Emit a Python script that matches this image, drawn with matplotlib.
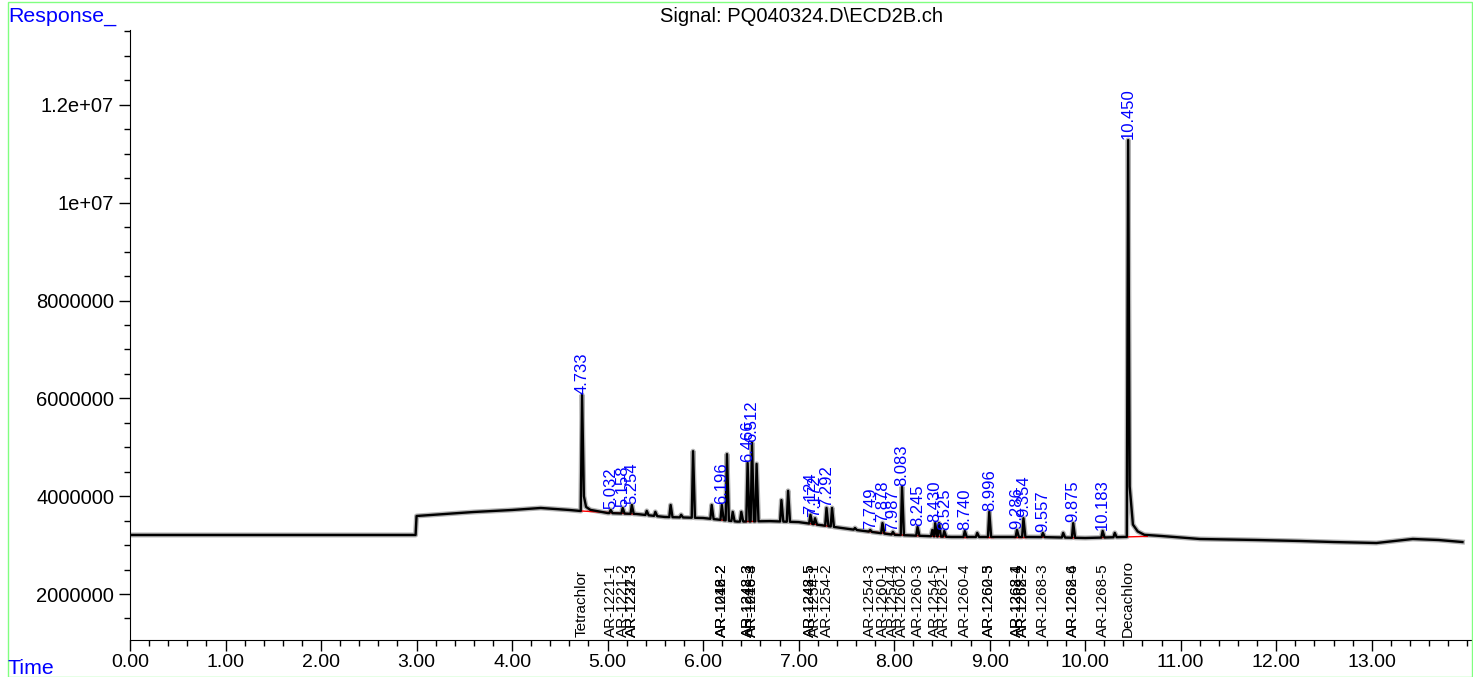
import numpy as np
import matplotlib
matplotlib.use("Agg")
import matplotlib.pyplot as plt
from matplotlib.patches import Rectangle
from matplotlib.ticker import MultipleLocator, FixedLocator

plt.rcParams['font.family'] = ['Liberation Sans', 'DejaVu Sans']

# baseline of the trace (time in min, response)
base_t = [0.0, 2.99, 3.0, 3.3, 3.6, 4.0, 4.3, 4.6, 4.7, 5.0, 5.3, 5.6, 6.0, 6.36,
          6.7, 7.0, 7.3, 7.6, 8.0, 8.6, 9.1, 9.5, 10.0, 10.4, 10.8, 11.2, 11.8,
          12.25, 12.6, 13.05, 13.43, 13.7, 13.95]
base_v = [3.207e6, 3.207e6, 3.595e6, 3.636e6, 3.677e6, 3.718e6, 3.759e6, 3.718e6,
          3.70e6, 3.656e6, 3.636e6, 3.575e6, 3.554e6, 3.48e6, 3.49e6, 3.47e6,
          3.39e6, 3.31e6, 3.21e6, 3.166e6, 3.166e6, 3.166e6, 3.145e6, 3.166e6,
          3.186e6, 3.125e6, 3.104e6, 3.084e6, 3.063e6, 3.043e6, 3.125e6,
          3.104e6, 3.063e6]

# peak apex times and heights
peak_t = [4.733, 5.032, 5.158, 5.254, 5.41, 5.50, 5.66, 5.77, 5.895, 6.09, 6.196,
          6.25, 6.31, 6.40, 6.466, 6.512, 6.56, 6.82, 6.89, 7.124, 7.172, 7.292,
          7.35, 7.59, 7.749, 7.878, 7.987, 8.083, 8.245, 8.40, 8.430, 8.47, 8.525,
          8.740, 8.87, 8.996, 9.286, 9.354, 9.557, 9.77, 9.875, 10.183, 10.31,
          10.450]
peak_v = [6.07e6, 3.72e6, 3.76e6, 3.82e6, 3.70e6, 3.68e6, 3.82e6, 3.62e6, 4.92e6,
          3.82e6, 3.82e6, 4.86e6, 3.68e6, 3.68e6, 4.68e6, 5.09e6, 4.66e6, 3.92e6,
          4.11e6, 3.62e6, 3.55e6, 3.76e6, 3.76e6, 3.35e6, 3.31e6, 3.45e6, 3.27e6,
          4.19e6, 3.37e6, 3.31e6, 3.45e6, 3.45e6, 3.29e6, 3.29e6, 3.25e6, 3.68e6,
          3.31e6, 3.55e6, 3.25e6, 3.25e6, 3.45e6, 3.29e6, 3.25e6, 11.28e6]

# tailing after the two big peaks
tail_t = [4.752, 4.775, 4.82, 10.466, 10.50, 10.55, 10.62]
tail_v = [4.0e6, 3.78e6, 3.72e6, 4.2e6, 3.42e6, 3.28e6, 3.21e6]

# integration baselines (red)
integ = [(4.70, 5.33), (6.18, 6.22), (6.43, 6.55), (7.10, 7.32), (7.72, 8.11),
         (8.22, 8.56), (8.72, 8.76), (8.97, 9.03), (9.26, 9.38), (9.54, 9.58),
         (9.85, 9.90), (10.16, 10.21), (10.43, 10.65)]

# labelled retention times
rt_labels = ['4.733', '5.032', '5.158', '5.254', '6.196', '6.466', '6.512', '7.124',
             '7.172', '7.292', '7.749', '7.878', '7.987', '8.083', '8.245', '8.430',
             '8.525', '8.740', '8.996', '9.286', '9.354', '9.557', '9.875', '10.183',
             '10.450']

# compound names along the bottom
comp_t = [4.733, 5.032, 5.158, 5.254, 5.254, 6.196, 6.196, 6.196, 6.466, 6.466,
          6.512, 6.512, 7.124, 7.124, 7.172, 7.292, 7.749, 7.878, 7.987, 8.083,
          8.245, 8.430, 8.525, 8.740, 8.996, 8.996, 9.286, 9.286, 9.354, 9.354,
          9.557, 9.875, 9.875, 10.183, 10.450]
comp_names = ['Tetrachlor', 'AR-1221-1', 'AR-1221-2', 'AR-1221-3', 'AR-1232-3',
              'AR-1016-2', 'AR-1242-2', 'AR-1248-2', 'AR-1242-3', 'AR-1248-3',
              'AR-1016-3', 'AR-1248-4', 'AR-1242-5', 'AR-1248-5', 'AR-1254-1',
              'AR-1254-2', 'AR-1254-3', 'AR-1260-1', 'AR-1254-4', 'AR-1260-2',
              'AR-1260-3', 'AR-1254-5', 'AR-1262-1', 'AR-1260-4', 'AR-1260-5',
              'AR-1262-3', 'AR-1268-1', 'AR-1262-4', 'AR-1268-2', 'AR-1262-2',
              'AR-1268-3', 'AR-1268-4', 'AR-1262-6', 'AR-1268-5', 'Decachloro']

blue = '#0000ff'

# assemble the trace: baseline knots + narrow peaks
wl, wr = 0.014, 0.02
pt = np.array(peak_t)
pv = np.array(peak_v)
bt = np.array(base_t)
bv = np.array(base_v)
keep = np.ones(len(bt), bool)
for t in pt:
    keep &= ~((bt > t - wl - 0.005) & (bt < t + wr + 0.005))
xs = list(bt[keep]) + list(pt) + list(tail_t)
ys = list(bv[keep]) + list(pv) + list(tail_v)
feet = np.concatenate([pt - wl, pt + wr])
# the two tailing peaks get their right side from tail_t
feet = feet[~((feet > 4.74) & (feet < 4.83)) & ~((feet > 10.455) & (feet < 10.63))]
xs += list(feet)
ys += list(np.interp(feet, bt, bv))
order = np.argsort(xs)
xs = np.array(xs)[order]
ys = np.array(ys)[order]

fig = plt.figure(figsize=(14.73, 6.77), dpi=100)
ax = fig.add_axes([130 / 1473, 37 / 677, 1342 / 1473, 610 / 677])

ax.plot(xs, ys, color='#808080', lw=3.6, alpha=0.6, zorder=2)
ax.plot(xs, ys, color='black', lw=1.7, zorder=3)

for a, b in integ:
    seg = np.array([a, b])
    ax.plot(seg, np.interp(seg, bt, bv), color='red', lw=1, zorder=2.5)

for s in rt_labels:
    t = float(s)
    i = int(np.argmin(np.abs(pt - t)))
    ax.text(t, pv[i] + 2e4, s, rotation=90, ha='center', va='bottom',
            color=blue, fontsize=12)

for t, name in zip(comp_t, comp_names):
    ax.text(t, 0.005, name, rotation=90, ha='center', va='bottom',
            fontsize=11, color='black', transform=ax.get_xaxis_transform())

ax.set_xlim(0, 14.05)
ax.set_ylim(1.06e6, 1.353e7)
ax.xaxis.set_major_locator(FixedLocator(np.arange(0, 14)))
ax.xaxis.set_minor_locator(MultipleLocator(0.2))
ax.xaxis.set_major_formatter(plt.FuncFormatter(lambda v, p: '%.2f' % v))
ax.yaxis.set_major_locator(FixedLocator([2e6, 4e6, 6e6, 8e6, 1e7, 1.2e7]))
ax.yaxis.set_major_formatter(plt.FuncFormatter(
    lambda v, p: {2e6: '2000000', 4e6: '4000000', 6e6: '6000000', 8e6: '8000000',
                  1e7: '1e+07', 1.2e7: '1.2e+07'}.get(v, '')))
ax.yaxis.set_minor_locator(MultipleLocator(5e5))
ax.tick_params(axis='both', which='major', length=8, width=1)
ax.tick_params(axis='y', which='major', labelsize=14.5)
ax.tick_params(axis='x', which='major', labelsize=14, pad=2)
ax.tick_params(axis='both', which='minor', length=4, width=1)
for sp in ['top', 'right']:
    ax.spines[sp].set_visible(False)

fig.text(801 / 1473, 1 - 16 / 677, 'Signal: PQ040324.D\\ECD2B.ch', ha='center',
         va='center', fontsize=14.5)
fig.text(8 / 1473, 1 - 16 / 677, 'Response_', ha='left', va='center',
         fontsize=15.4, color=blue)
fig.text(8 / 1473, 1 - 668 / 677, 'Time', ha='left', va='center',
         fontsize=15.4, color=blue)
fig.add_artist(Rectangle((8 / 1473, 0.5 / 677), 1464 / 1473, 675 / 677,
                         transform=fig.transFigure, fill=False,
                         edgecolor='#80ff80', lw=1))

fig.savefig('out.png', dpi=100)
